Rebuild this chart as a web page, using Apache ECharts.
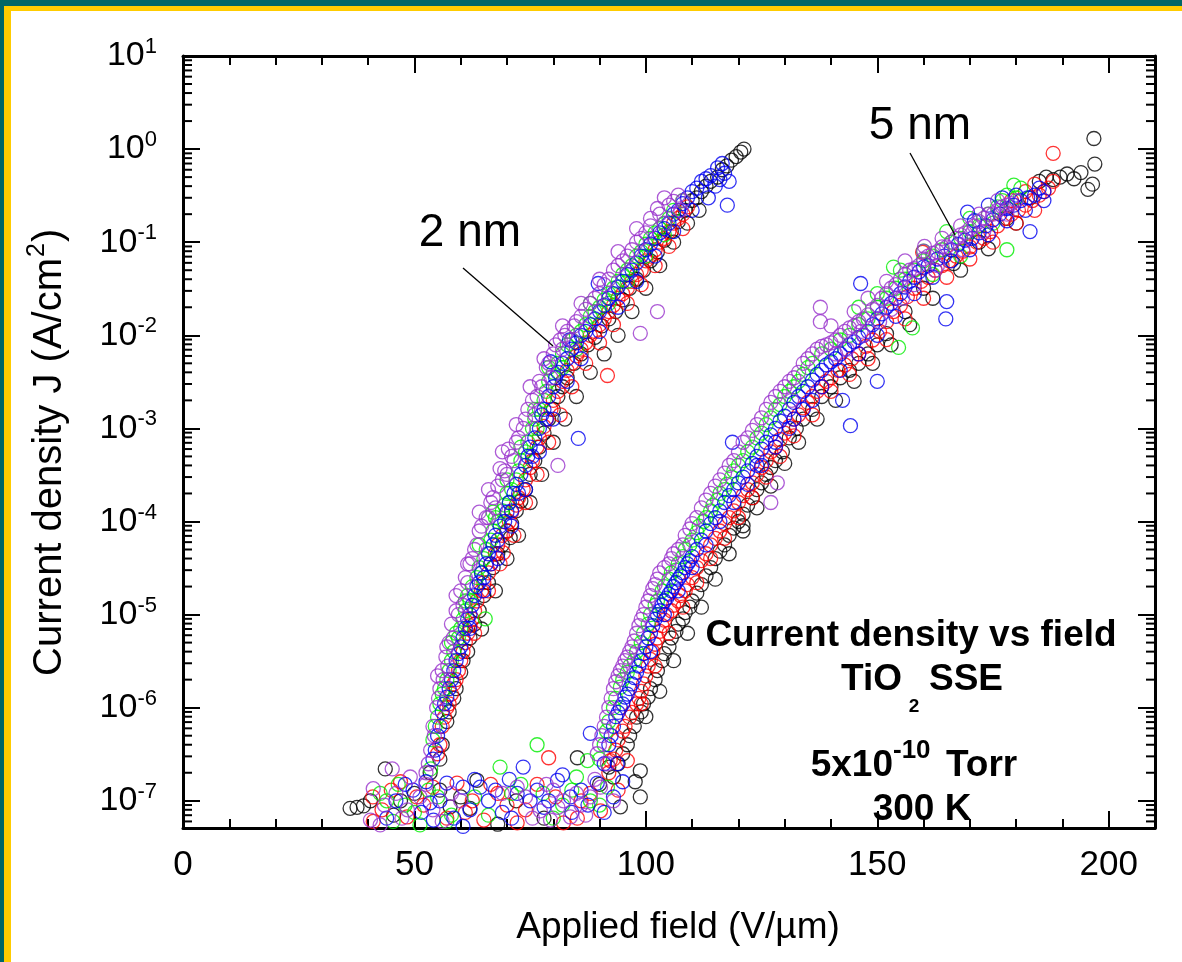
<!DOCTYPE html>
<html>
<head>
<meta charset="utf-8">
<title>Current density vs field — TiO2 SSE</title>
<script src="https://cdn.jsdelivr.net/npm/echarts@6/dist/echarts.min.js"></script>
<style>
  html, body { margin: 0; padding: 0; background: #ffffff; }
  #chart { width: 1182px; height: 962px; }
</style>
</head>
<body>
<div id="chart"></div>
<script>
// ---- Measured J–E data, [applied field (V/µm), current density (A/cm²)] ----
// 2 nm film
const black2nm = [[55.5,2.8e-7],[57,7.1e-7],[58.5,1.26e-6],[60,2.4e-6],[61.5,4.0e-6],[63,7.9e-6],[65,1.6e-5],[67,3.2e-5],[69,5.6e-5],[70.7,6.7e-5],[71,9.5e-5],[73,1.66e-4],[75,3.2e-4],[77,6.3e-4],[79,1.26e-3],[81,2.2e-3],[83,3.5e-3],[86,6.3e-3],[89,9.5e-3],[92,1.5e-2],[95,2.4e-2],[98,4.0e-2],[101,6.3e-2],[104,0.105],[107,0.166],[110,0.28],[112,0.35],[113,0.4],[114,0.45],[115.5,0.5],[116.5,0.6],[117.5,0.66],[118.5,0.76],[119.5,0.83],[120.5,0.93],[121.2,1.0],
  [56,4.0e-7],[57.5,9.0e-7],[59,1.6e-6],[60.5,3.2e-6],[62,5.6e-6],[64,1.1e-5],[66,2.2e-5],[68,4.5e-5],[70,7.9e-5],[72,1.3e-4],[74,2.2e-4],[76,4.5e-4],[78,8.9e-4],[80,1.6e-3],[82,2.8e-3],[84.5,5.0e-3],[87.5,7.9e-3],[90.5,1.26e-2],[93.5,1.8e-2],[96.5,3.2e-2],[99.5,5.0e-2],[102.5,7.9e-2],[105.5,0.13],[108.5,0.22],[111,0.3],
  [64.5,7.0e-6],[67.5,1.8e-5],[70,4.0e-5],[72.5,7.1e-5],[75,1.6e-4],[77.5,3.2e-4],[80,7.1e-4],[82.5,1.26e-3],[85,2.2e-3],[88,4.0e-3],[91,6.3e-3],[94,1.0e-2],[97,1.8e-2],[100,3.2e-2],[103,5.6e-2],[106,0.1],[109,0.16],[111.5,0.22]];
const red2nm = [[55,3.2e-7],[56,6.3e-7],[57,1.0e-6],[58,1.4e-6],[59,2.0e-6],[60,3.2e-6],[61,5.0e-6],[62,7.6e-6],[63,1.1e-5],[64.5,1.8e-5],[66,2.8e-5],[67.5,4.5e-5],[69.2,4.6e-5],[69,7.1e-5],[70.5,1.0e-4],[72,1.5e-4],[73.5,2.2e-4],[75,3.8e-4],[76.5,6.3e-4],[78,1.05e-3],[79.5,1.6e-3],[81,2.5e-3],[83,4.2e-3],[85,6.0e-3],[87,8.3e-3],[89,1.1e-2],[91,1.5e-2],[93,2.1e-2],[95,2.8e-2],[97,3.8e-2],[99,5.0e-2],[101,7.1e-2],[103,0.1],[105,0.13],[107,0.18],[109,0.24],[91.7,3.7e-3],
  [55.5,4.0e-7],[56.5,7.9e-7],[57.5,1.1e-6],[58.5,1.8e-6],[59.5,2.5e-6],[60.5,4.0e-6],[61.5,6.3e-6],[62.5,9.0e-6],[63.5,1.4e-5],[65,2.2e-5],[66.5,3.5e-5],[68,5.6e-5],[70,7.9e-5],[71,1.26e-4],[72.5,1.8e-4],[74,2.8e-4],[75.5,4.5e-4],[77,7.9e-4],[78.5,1.26e-3],[80,2.0e-3],[82,3.2e-3],[84,5.0e-3],[86,7.1e-3],[88,1.0e-2],[90,1.3e-2],[92,1.8e-2],[94,2.5e-2],[96,3.2e-2],[98,4.5e-2],[100,6.3e-2],[102,8.3e-2],[104,0.11],[106,0.16],[108,0.2],
  [63,6.3e-6],[66,1.8e-5],[68.5,3.5e-5],[71.5,7.1e-5],[74,1.6e-4],[76.5,3.2e-4],[79,7.1e-4],[81.5,1.4e-3],[84,2.8e-3],[87,5.0e-3],[90,8.3e-3],[93,1.3e-2],[96,2.2e-2],[99,3.5e-2],[102,5.6e-2],[105,0.09],[108,0.14]];
const green2nm = [[54,4.5e-7],[55,7.9e-7],[56,1.4e-6],[57,2.0e-6],[58,3.2e-6],[59.5,5.6e-6],[60.5,8.9e-6],[62,1.4e-5],[63.5,2.5e-5],[65.3,9.0e-6],[65,4.0e-5],[66.5,6.3e-5],[68,1.0e-4],[69.5,1.5e-4],[71,2.2e-4],[72.5,3.5e-4],[74,5.6e-4],[75.5,1.0e-3],[77,1.6e-3],[78.5,2.5e-3],[80,4.0e-3],[82,6.3e-3],[84,8.9e-3],[86,1.1e-2],[88,1.6e-2],[90,2.0e-2],[92,2.8e-2],[94,3.8e-2],[96,5.0e-2],[98,7.1e-2],[100,9.5e-2],[102,0.126],[104,0.158],[106,0.22],[108,0.28],
  [53.5,2.2e-7],[54.5,6.3e-7],[55.5,1.1e-6],[56.5,1.6e-6],[57.5,2.5e-6],[58.5,4.0e-6],[59,6.3e-6],[60,7.1e-6],[61,1.1e-5],[61.5,1.6e-5],[62.5,2.0e-5],[64,3.2e-5],[64.5,2.8e-5],[65.5,5.0e-5],[67,7.9e-5],[67.5,1.1e-4],[69,1.3e-4],[70,2.0e-4],[70.5,1.6e-4],[72,2.8e-4],[73,4.5e-4],[74.5,7.1e-4],[76,1.26e-3],[76.5,1.0e-3],[78,2.0e-3],[79,3.2e-3],[81,5.0e-3],[83,7.9e-3],[85,1.0e-2],[87,1.3e-2],[89,1.8e-2],[91,2.4e-2],[93,3.2e-2],[95,4.5e-2],[97,5.6e-2],[99,7.9e-2],[101,0.11],[103,0.14],[105,0.18],
  [58,5.0e-6],[61,1.4e-5],[64,5.6e-5],[67,1.26e-4],[70,2.8e-4],[73,6.3e-4],[76,1.6e-3],[79,4.5e-3],[82,4.5e-3],[85,7.1e-3],[88,2.2e-2],[92,2.2e-2],[96,3.8e-2],[100,0.071],[104,0.12]];
const blue2nm = [[54.5,3.5e-7],[55.5,6.3e-7],[56.5,1.1e-6],[57.5,1.6e-6],[58.5,2.5e-6],[59.5,3.8e-6],[60.5,5.6e-6],[61.5,8.9e-6],[62.5,1.26e-5],[64,2.2e-5],[65.5,3.5e-5],[67,5.6e-5],[68.5,8.9e-5],[70,1.26e-4],[71.5,2.0e-4],[73,3.2e-4],[74.5,5.0e-4],[76,7.9e-4],[77.5,1.4e-3],[79,2.2e-3],[79.4,5.2e-3],[80.5,3.5e-3],[82,5.0e-3],[84,7.1e-3],[86,1.0e-2],[88,1.3e-2],[90,1.8e-2],[92,2.5e-2],[94,3.3e-2],[96,4.5e-2],[98,6.0e-2],[100,8.3e-2],[102,0.11],[104,0.14],[106,0.2],[108,0.26],[110,0.35],[112,0.45],[114,0.52],[115.5,0.63],[117.6,0.25],[89.7,0.036],[85.4,7.8e-4],
  [54,2.8e-7],[55,5.0e-7],[56,9.0e-7],[57,1.3e-6],[58,2.0e-6],[59,3.2e-6],[60,4.5e-6],[61,7.1e-6],[62,1.0e-5],[63,1.6e-5],[63.5,2.0e-5],[64.5,2.8e-5],[65,2.5e-5],[66,4.5e-5],[66.5,3.5e-5],[67.5,7.1e-5],[68,6.3e-5],[69.5,1.0e-4],[70.5,1.6e-4],[71,1.3e-4],[72,2.5e-4],[72.5,2.0e-4],[74,4.0e-4],[75,6.3e-4],[75.5,5.0e-4],[77,1.0e-3],[78,1.6e-3],[78.5,1.26e-3],[80,2.8e-3],[81,4.0e-3],[83,5.6e-3],[83.5,8.9e-3],[85,8.3e-3],[87,1.1e-2],[89,1.5e-2],[91,2.1e-2],[93,2.8e-2],[95,3.8e-2],[97,5.0e-2],[99,7.1e-2],[101,9.5e-2],[103,0.126],[105,0.16],[107,0.22],[109,0.3],[111,0.38],[113,0.48],[115,0.4],[116,0.47],[116.5,0.7],[117,0.55],
  [62,7.1e-6],[65,1.8e-5],[68,4.0e-5],[71,8.9e-5],[74,2.2e-4],[77,5.6e-4],[80,1.26e-3],[83,3.2e-3],[86,5.6e-3],[90,1.1e-2],[94,2.0e-2],[98,3.8e-2],[102,7.1e-2],[106,0.13],[110,0.22],[113.5,0.3],[118,0.45]];
const purple2nm = [[52.5,2.0e-7],[53.5,3.5e-7],[54,6.3e-7],[54.8,1.0e-6],[55.5,1.6e-6],[56,2.5e-6],[56.8,3.5e-6],[57.5,5.0e-6],[58,7.9e-6],[59,1.1e-5],[60,1.8e-5],[61,2.5e-5],[62,3.5e-5],[63,5.0e-5],[64,7.9e-5],[65.5,1.1e-4],[66,1.1e-4],[67,1.8e-4],[68,2.4e-4],[68.5,3.7e-4],[69.5,3.5e-4],[70,3.2e-4],[70.3,6.0e-4],[71,5.0e-4],[72.5,7.9e-4],[74,1.26e-3],[75.5,2.0e-3],[76,1.4e-3],[77,3.2e-3],[78.5,4.5e-3],[80,6.3e-3],[81.5,8.9e-3],[83,1.1e-2],[84,8.9e-3],[85,1.4e-2],[87,1.9e-2],[89,2.5e-2],[91,3.5e-2],[93,5.0e-2],[95,6.3e-2],[97,8.3e-2],[98.8,1.05e-2],[99,0.11],[101,0.15],[103,0.2],[105,0.25],[106,0.275],[107,0.32],[108,0.28],[102.5,0.23],[102.5,0.018],[81,4.0e-4],
  [53,2.5e-7],[54.3,5.0e-7],[55.2,1.26e-6],[56.2,2.0e-6],[57.2,2.8e-6],[58.4,5.6e-6],[59.5,1.0e-5],[60.5,1.26e-5],[61.5,2.2e-5],[62.5,4.0e-5],[63.5,5.6e-5],[64.5,8.9e-5],[66.5,1.6e-4],[67.5,1.4e-4],[69,2.8e-4],[71.5,4.5e-4],[72,7.1e-4],[73.5,1.0e-3],[74.5,1.6e-3],[76.5,2.2e-3],[77.5,2.8e-3],[79,5.0e-3],[79.5,3.5e-3],[80.5,7.9e-3],[82,7.1e-3],[82.5,1.0e-2],[84.5,1.26e-2],[86,1.6e-2],[88,2.2e-2],[90,2.8e-2],[92,4.0e-2],[94,5.6e-2],[96,7.1e-2],[98,0.1],[100,0.126],[104,0.16],[107.5,0.22],
  [55,2.2e-6],[57,4.5e-6],[59,1.6e-5],[61.5,3.5e-5],[64,1.26e-4],[66,2.2e-4],[69,5.6e-4],[72,1.1e-3],[75,2.8e-3],[78,5.6e-3],[82,1.26e-2],[86,2.2e-2],[90,4.0e-2],[94,7.9e-2],[98,0.14],[101,0.18],[104,0.3]];

// 5 nm film
const black5nm = [[93,1.8e-7],[95,3.2e-7],[96.5,5.0e-7],[98,7.9e-7],[99.5,1.1e-6],[101,1.6e-6],[102.5,2.5e-6],[104,3.8e-6],[105.5,5.6e-6],[107,7.9e-6],[108.5,1.05e-5],[110,1.4e-5],[112,2.1e-5],[114,3.2e-5],[116,4.8e-5],[118,7.1e-5],[120,1.0e-4],[121,9.0e-5],[122,1.5e-4],[124,2.2e-4],[126,3.2e-4],[128,4.5e-4],[131,7.9e-4],[134,1.26e-3],[138,2.2e-3],[142,3.5e-3],[146,5.0e-3],[150,7.9e-3],[185,0.45],[186.5,0.5],[188,0.47],[189.5,0.5],[191,0.54],[192.5,0.48],[194,0.56],[195.5,0.37],[196.5,0.42],[197,0.69],[196.8,1.3],
  [94,2.5e-7],[96,4.0e-7],[97.5,6.3e-7],[99,9.0e-7],[100.5,1.3e-6],[102,2.0e-6],[103.5,3.2e-6],[105,4.5e-6],[106.5,6.6e-6],[108,9.0e-6],[109.5,1.2e-5],[111,1.7e-5],[113,2.6e-5],[115,4.0e-5],[117,5.6e-5],[119,8.5e-5],[121,1.2e-4],[123,1.8e-4],[125,2.6e-4],[127,3.8e-4],[129.5,5.6e-4],[132.5,1.0e-3],[136,1.6e-3],[140,2.8e-3],[144,4.2e-3],[148,6.3e-3],[152,1.04e-2],[156,1.8e-2],[160,3.2e-2],[166.5,5.9e-2],[172,0.1],[178,0.18],[183,0.3],
  [100,8.0e-7],[103,1.5e-6],[106,3.2e-6],[109,6.3e-6],[112,1.2e-5],[115,2.4e-5],[118,4.5e-5],[121,7.9e-5],[124,1.4e-4],[127,2.4e-4],[130,4.2e-4],[133,7.1e-4],[137,1.26e-3],[141,2.0e-3],[145,3.2e-3],[149,5.0e-3],[153,7.9e-3],[157,1.3e-2],[162,2.5e-2],[168,5.0e-2],[174,8.5e-2],[180,0.16]];
const red5nm = [[92,2.0e-7],[93.5,3.5e-7],[95,5.6e-7],[96.5,7.9e-7],[98,1.1e-6],[99,1.5e-6],[100,2.2e-6],[101,3.3e-6],[102,4.8e-6],[103,6.6e-6],[104,8.7e-6],[105.5,1.1e-5],[107,1.4e-5],[108.5,1.8e-5],[110,2.5e-5],[112,3.8e-5],[114,5.6e-5],[116,7.9e-5],[118,1.1e-4],[120,1.6e-4],[122,2.2e-4],[124,3.2e-4],[126,4.5e-4],[128,6.3e-4],[130,8.9e-4],[132,1.26e-3],[134,1.66e-3],[136,2.2e-3],[138,2.8e-3],[140,3.5e-3],[143,4.8e-3],[146,6.3e-3],[149,8.9e-3],[152,1.4e-2],[155,2.1e-2],[158,3.2e-2],[159.8,7.8e-2],[161,4.2e-2],[164,5.6e-2],[167,7.1e-2],[170,8.9e-2],[173,0.11],[176,0.15],[179,0.2],[182,0.25],[185,0.32],[187,0.38],[188,0.45],[188,0.9],
  [93,2.8e-7],[94,4.5e-7],[95.5,6.3e-7],[97,8.9e-7],[98.5,1.26e-6],[99.5,1.8e-6],[100.5,2.8e-6],[101.5,4.0e-6],[102.5,5.6e-6],[103.5,7.6e-6],[104.5,1.0e-5],[106,1.26e-5],[107.5,1.6e-5],[109,2.1e-5],[111,3.2e-5],[113,4.5e-5],[115,6.6e-5],[117,9.5e-5],[119,1.3e-4],[121,1.9e-4],[123,2.6e-4],[125,3.8e-4],[127,5.6e-4],[129,7.6e-4],[131,1.05e-3],[133,1.4e-3],[135,1.9e-3],[137,2.5e-3],[139,3.2e-3],[141.5,4.2e-3],[144.5,5.6e-3],[147.5,7.6e-3],[150.5,1.1e-2],[153.5,1.8e-2],[156.5,2.6e-2],[159.5,3.8e-2],[162.5,5.0e-2],[165.5,6.3e-2],[168.5,8.0e-2],[171.5,0.1],[174.5,0.13],[177.5,0.18],[179,0.28],[180.5,0.22],[182,0.35],[183.5,0.28],[184,0.42],[186,0.35],
  [99,1.1e-6],[102,2.8e-6],[105,6.3e-6],[108,1.2e-5],[111,2.2e-5],[114,4.0e-5],[117,6.6e-5],[120,1.1e-4],[123,1.8e-4],[126,3.0e-4],[129,5.0e-4],[132,8.3e-4],[136,1.4e-3],[140,2.5e-3],[144,3.8e-3],[148,5.6e-3],[152,9.0e-3],[156,1.5e-2],[160,2.5e-2],[165,4.2e-2],[170,6.6e-2],[175,0.1],[180,0.16],[184,0.22]];
const green5nm = [[90,2.8e-7],[91.5,5.6e-7],[93,1.0e-6],[94.5,1.66e-6],[96,2.4e-6],[97.5,3.2e-6],[99,5.0e-6],[100.5,7.9e-6],[102,1.26e-5],[103.5,1.8e-5],[105,2.4e-5],[106.5,3.0e-5],[108,4.2e-5],[109.5,5.6e-5],[111,7.6e-5],[112.5,1.0e-4],[114,1.3e-4],[115.5,1.7e-4],[117,2.2e-4],[118.5,3.0e-4],[120,4.0e-4],[122,5.6e-4],[124,7.9e-4],[126,1.1e-3],[128,1.6e-3],[130,2.2e-3],[132,2.8e-3],[134,3.8e-3],[136,5.0e-3],[140,7.1e-3],[144,1.0e-2],[148,1.5e-2],[152,2.5e-2],[153.5,5.4e-2],[154.6,7.4e-3],[156,4.0e-2],[157.6,1.2e-2],[160,6.3e-2],[164,8.3e-2],[168,0.11],[172,0.15],[176,0.24],[178,0.083],[178,0.32],[179.5,0.41],[181,0.38],
  [91,4.0e-7],[92,7.1e-7],[93.5,1.26e-6],[95,2.0e-6],[96.5,2.8e-6],[98,4.0e-6],[99.5,6.3e-6],[101,1.0e-5],[102.5,1.4e-5],[104,2.0e-5],[105.5,2.8e-5],[107,3.5e-5],[108.5,5.0e-5],[110,6.3e-5],[111.5,8.9e-5],[113,1.1e-4],[114.5,1.5e-4],[116,2.0e-4],[117.5,2.5e-4],[119,3.5e-4],[121,4.5e-4],[123,6.3e-4],[125,8.9e-4],[127,1.3e-3],[129,1.8e-3],[131,2.5e-3],[133,3.2e-3],[135,4.5e-3],[138,6.3e-3],[142,8.9e-3],[146,1.3e-2],[150,2.0e-2],[154,3.2e-2],[158,5.0e-2],[162,7.1e-2],[166,0.1],[170,0.13],[174,0.2],[177,0.28],
  [146,2.0e-2],[150,2.8e-2],[155,5.0e-2],[160,8.0e-2],[162,4.5e-2],[165,0.13],[168,7.1e-2],[170,0.18],[175,0.16],[180,0.3]];
const blue5nm = [[88,5.3e-7],[91,2.5e-7],[92,4.0e-7],[93,6.3e-7],[94,8.9e-7],[95,1.1e-6],[96,1.4e-6],[97,1.8e-6],[98,2.4e-6],[99,3.2e-6],[100,4.5e-6],[101,6.3e-6],[102,8.9e-6],[103,1.1e-5],[104,1.4e-5],[105,1.66e-5],[106,2.0e-5],[107,2.4e-5],[108,2.8e-5],[109,3.5e-5],[110,4.2e-5],[112,6.3e-5],[114,9.5e-5],[116,1.3e-4],[118,1.9e-4],[118.7,7.1e-4],[120,2.6e-4],[122,3.5e-4],[124,5.0e-4],[126,7.1e-4],[128,1.0e-3],[130,1.35e-3],[132,1.9e-3],[134,2.5e-3],[136,3.3e-3],[138,4.2e-3],[140,5.2e-3],[142,6.3e-3],[142.5,2.0e-3],[144,7.9e-3],[144.2,1.07e-3],[146,9.5e-3],[146.4,0.036],[148,1.1e-2],[150,1.5e-2],[150,3.2e-3],[152,2.0e-2],[154,2.5e-2],[156,3.3e-2],[158,4.2e-2],[160,5.4e-2],[163,6.6e-2],[164.8,0.015],[165,0.023],[166,8.3e-2],[169,0.105],[169.5,0.21],[172,0.126],[175,0.174],[178,0.23],[181,0.28],[183,0.13],[184,0.32],[186,0.35],
  [92.5,5.0e-7],[93.5,8.0e-7],[94.5,1.0e-6],[95.5,1.3e-6],[96.5,1.6e-6],[97.5,2.1e-6],[98.5,2.8e-6],[99.5,3.8e-6],[100.5,5.6e-6],[101.5,7.6e-6],[102.5,1.0e-5],[103.5,1.26e-5],[104.5,1.5e-5],[105.5,1.8e-5],[106.5,2.2e-5],[107.5,2.6e-5],[108.5,3.2e-5],[109.5,3.8e-5],[111,5.0e-5],[113,7.9e-5],[115,1.1e-4],[117,1.6e-4],[119,2.2e-4],[121,3.0e-4],[123,4.2e-4],[124,4.0e-4],[125,6.0e-4],[127,8.5e-4],[128,7.1e-4],[129,1.2e-3],[131,1.6e-3],[132,1.26e-3],[133,2.2e-3],[135,2.8e-3],[136,2.0e-3],[137,3.8e-3],[139,4.8e-3],[141,5.6e-3],[143,7.1e-3],[145,8.5e-3],[147,1.0e-2],[149,1.3e-2],[151,1.7e-2],[153,2.2e-2],[155,2.8e-2],[157,3.8e-2],[159,4.8e-2],[161,5.6e-2],[164.5,7.1e-2],[167.5,9.5e-2],[170.5,0.11],[171,0.17],[173.5,0.15],[174,0.25],[176.5,0.2],[177,0.3],[179.5,0.25],[180,0.32],[182.5,0.3],[185,0.38],
  [101,4.0e-6],[104,1.0e-5],[107,1.8e-5],[110,3.2e-5],[113,5.6e-5],[116,1.0e-4],[119,1.6e-4],[122,2.5e-4],[125,4.0e-4],[128,6.3e-4],[131,1.0e-3],[134,1.6e-3],[138,2.8e-3],[142,4.2e-3],[146,6.3e-3],[150,1.0e-2],[154,1.6e-2],[158,2.8e-2],[162,4.2e-2],[166,6.3e-2],[170,8.3e-2],[174,0.12],[178,0.17],[182,0.22],[186,0.28]];
const purple5nm = [[89.5,3.2e-7],[90.5,5.0e-7],[91.5,7.9e-7],[92.5,1.26e-6],[93.5,1.9e-6],[94.5,2.5e-6],[95.5,3.2e-6],[96.5,4.0e-6],[97.5,5.2e-6],[98.5,7.6e-6],[99.5,1.0e-5],[100.5,1.4e-5],[101.5,1.9e-5],[102.5,2.4e-5],[104,3.2e-5],[105.5,4.0e-5],[107,5.0e-5],[108.5,7.1e-5],[110,9.5e-5],[112,1.4e-4],[114,2.0e-4],[116,2.8e-4],[118,4.0e-4],[120,5.6e-4],[122,7.9e-4],[124,1.1e-3],[126,1.6e-3],[127,1.6e-4],[128,2.2e-3],[128.4,2.6e-4],[130,2.8e-3],[132,3.5e-3],[134,5.0e-3],[136,6.3e-3],[137.7,0.02],[137.7,0.014],[138,7.6e-3],[140,8.3e-3],[142,1.0e-2],[144,1.2e-2],[146,1.4e-2],[148,1.66e-2],[150,2.1e-2],[152,2.8e-2],[154,3.5e-2],[156,4.5e-2],[158,5.2e-2],[160,6.6e-2],[160.2,0.09],[162,7.6e-2],[164,8.9e-2],[166,0.1],[168,0.12],[170,0.14],[172,0.166],[174,0.2],[176,0.22],[178,0.25],[180,0.28],
  [90,4.0e-7],[91,6.3e-7],[92,1.0e-6],[93,1.6e-6],[94,2.2e-6],[95,2.8e-6],[96,3.5e-6],[97,4.5e-6],[98,6.3e-6],[99,8.9e-6],[100,1.2e-5],[101,1.6e-5],[102,2.1e-5],[103,2.8e-5],[105,3.5e-5],[106,4.5e-5],[108,5.6e-5],[109.5,8.3e-5],[111,1.1e-4],[113,1.7e-4],[115,2.4e-4],[117,3.3e-4],[119,4.5e-4],[121,7.1e-4],[123,9.5e-4],[125,1.3e-3],[127,1.9e-3],[129,2.5e-3],[131,3.2e-3],[131.5,2.0e-3],[133,4.0e-3],[135,5.6e-3],[137,7.1e-3],[139,7.9e-3],[141,8.9e-3],[143,1.1e-2],[143.5,7.1e-3],[145,1.26e-2],[146.5,1.1e-2],[147,1.5e-2],[149,1.9e-2],[150.5,1.4e-2],[151,2.5e-2],[153,3.2e-2],[155,4.0e-2],[155.5,2.5e-2],[157,5.0e-2],[159,5.6e-2],[161,7.1e-2],[162.5,5.0e-2],[163,7.9e-2],[165,8.9e-2],[167,0.11],[169,0.126],[171,0.15],[173,0.18],[175,0.2],[177,0.24],[179,0.26],
  [140,1.26e-2],[141,6.3e-3],[145,1.8e-2],[147,1.0e-2],[148,2.5e-2],[152,3.8e-2],[153,1.9e-2],[156,6.3e-2],[158,3.5e-2],[160,8.0e-2],[163,5.6e-2],[164,0.11],[168,0.15],[168.5,8.3e-2],[172,0.2],[173,0.13],[176,0.28],[178,0.2]];

// Leakage floor before onset (both films)
const blackFloor = [[36.1,8.3e-8],[37.6,8.5e-8],[39,8.8e-8],[40.5,1.0e-7],[43.7,2.2e-7],[45.5,7.0e-8],[47,1.0e-7],[50,1.2e-7],[53.4,2.0e-7],[55.5,1.3e-7],[57.7,8.6e-8],[60,1.1e-7],[62,8.3e-8],[63.5,1.66e-7],[68,5.6e-8],[72,1.0e-7],[78,6.5e-8],[85.2,2.9e-7],[90,1.5e-7],[92,2.3e-7],[94.5,8.6e-8],[97.7,1.6e-7],[98.8,2.1e-7],[98.8,1.1e-7]];
const redFloor = [[41,1.1e-7],[41.1,6.0e-8],[43,8.0e-8],[45,1.3e-7],[47,1.6e-7],[48.4,6.7e-8],[50.5,1.1e-7],[52,9.0e-8],[54,1.4e-7],[57,6.5e-8],[59.2,1.55e-7],[61,7.5e-8],[62.5,1.0e-7],[65,6.2e-8],[66.5,1.5e-7],[68,1.2e-7],[70,9.0e-8],[72.2,5.8e-8],[74,8.0e-8],[76.5,1.5e-7],[79,2.9e-7],[80.5,1.1e-7],[82.2,5.8e-8],[85.2,6.5e-8],[86,1.0e-7],[88,1.2e-7],[90.2,7.8e-8],[92.3,2.7e-7],[94,1.3e-7],[96,2.7e-7]];
const greenFloor = [[42.6,1.2e-7],[44,1.0e-7],[45.4,6.0e-8],[46.5,1.5e-7],[48,9.0e-8],[50,7.5e-8],[51.2,5.5e-8],[53,1.3e-7],[55,1.1e-7],[57,6.0e-8],[58,7.0e-8],[63,1.1e-7],[66,7.0e-8],[68.5,2.3e-7],[71,1.2e-7],[73,1.5e-7],[76.5,4.0e-7],[77.8,1.2e-7],[80,6.5e-8],[82,9.0e-8],[84,1.3e-7],[85,1.8e-7],[87.4,2.7e-7],[88,1.0e-7],[90,9.0e-8],[91.7,1.4e-7]];
const blueFloor = [[44,6.5e-8],[46,1.0e-7],[48,1.5e-7],[49.7,1.3e-7],[51.5,7.5e-8],[52.5,1.6e-7],[53.4,9.5e-8],[54.1,6.2e-8],[55.5,1.0e-7],[57,1.55e-7],[58.5,6.5e-8],[60.5,1.4e-7],[60.5,5.3e-8],[62,8.0e-8],[63,1.7e-7],[64.2,1.4e-7],[66,1.0e-7],[67.5,1.3e-7],[69,7.5e-8],[70.5,1.7e-7],[71,6.5e-8],[72.2,1.2e-7],[73.5,2.3e-7],[75,1.0e-7],[76.5,1.3e-7],[78,8.5e-8],[79,1.0e-7],[80.9,1.66e-7],[82,1.9e-7],[83.7,1.1e-7],[84,7.5e-8],[86,1.3e-7],[87.5,9.0e-8],[89.5,1.55e-7],[91,7.5e-8],[93,1.1e-7],[93.8,2.5e-7],[95,1.6e-7]];
const purpleFloor = [[40.5,6.2e-8],[41.1,1.35e-7],[42.6,5.5e-8],[43.5,9.0e-8],[45.2,2.2e-7],[46,1.2e-7],[47.3,6.5e-8],[48.5,8.0e-8],[49.1,1.8e-7],[51.2,1.1e-7],[52.5,1.5e-7],[54,8.0e-8],[56,6.0e-8],[58,1.2e-7],[60,1.0e-7],[69,1.2e-7],[72.2,1.4e-7],[74,1.1e-7],[75.5,6.5e-8],[77.2,7.8e-8],[78.5,1.5e-7],[79.4,6.2e-8],[80,1.3e-7],[81,8.5e-8],[82.2,1.0e-7],[83.7,6.7e-8],[85,1.2e-7],[86,9.0e-8],[87,7.0e-8],[88,1.1e-7],[89,1.7e-7],[90.2,1.4e-7],[91.7,2.5e-7],[93,1.0e-7]];

// Axis ticks
const xMajorStep = 50;
const xMinorStep = 10;
const yDecades = [-8, -7, -6, -5, -4, -3, -2, -1, 0];
const yMantissas = [2, 3, 4, 5, 6, 7, 8, 9];
const yMin = 5.1e-8, yMax = 10;

const FONT = '"Liberation Sans", Arial, Helvetica, sans-serif';

// minor log ticks (2..9 per decade) that fall inside the axis range
const yMinorTicks = [];
yDecades.forEach(d => yMantissas.forEach(m => {
  const v = m * Math.pow(10, d);
  if (v > yMin && v < yMax) yMinorTicks.push([0, v]);
}));

// draw order: later series on top
const groups = [
  { name: 'black',  color: '#000000', data: [black2nm, black5nm, blackFloor] },
  { name: 'red',    color: '#ff0000', data: [red2nm, red5nm, redFloor] },
  { name: 'green',  color: '#00ee00', data: [green2nm, green5nm, greenFloor] },
  { name: 'blue',   color: '#0000f0', data: [blue2nm, blue5nm, blueFloor] },
  { name: 'purple', color: '#9932cc', data: [purple2nm, purple5nm, purpleFloor] }
];

const chart = echarts.init(document.getElementById('chart'), null, { renderer: 'canvas' });

const axisLineStyle = { color: '#000', width: 3 };
const tickStyle = { color: '#000', width: 2 };

function xAxisDef(position, major) {
  return {
    type: 'value', position: position, min: 0, max: 210,
    interval: major ? xMajorStep : xMinorStep,
    axisLine: { show: major, onZero: false, lineStyle: axisLineStyle },
    axisTick: { show: true, inside: true, length: major ? 17 : 9, lineStyle: tickStyle },
    axisLabel: {
      show: major && position === 'bottom',
      formatter: v => (v % xMajorStep === 0 ? String(v) : ''),
      fontFamily: FONT, fontSize: 35, color: '#000', margin: 20
    },
    splitLine: { show: false }
  };
}

function yAxisDef(position) {
  return {
    type: 'log', logBase: 10, position: position, min: yMin, max: yMax,
    axisLine: { show: true, onZero: false, lineStyle: axisLineStyle },
    axisTick: { show: true, inside: true, length: 17, lineStyle: tickStyle },
    minorTick: { show: false },
    axisLabel: {
      show: position === 'left',
      margin: 26,
      formatter: v => {
        const e = Math.log10(v);
        const r = Math.round(e);
        if (Math.abs(e - r) > 1e-6) return '';
        return '{b|10}{e|' + r + '}';
      },
      rich: {
        b: { fontFamily: FONT, fontSize: 34, lineHeight: 40, color: '#000' },
        e: { fontFamily: FONT, fontSize: 22, verticalAlign: 'top', color: '#000' }
      }
    },
    splitLine: { show: false }
  };
}

const series = groups.map(g => ({
  name: g.name,
  type: 'scatter',
  xAxisIndex: 0, yAxisIndex: 0,
  data: [].concat(...g.data),
  symbol: 'circle',
  symbolSize: 14,
  itemStyle: { color: 'rgba(0,0,0,0)', borderColor: g.color, borderWidth: 1.3 },
  emphasis: { disabled: true },
  silent: true
}));

// log-spaced minor ticks on the left and right frame edges
series.push({
  type: 'custom',
  xAxisIndex: 0, yAxisIndex: 0,
  data: yMinorTicks,
  silent: true,
  clip: false,
  z: 5,
  renderItem: (params, api) => {
    const cs = params.coordSys;
    const y = api.coord([0, api.value(1)])[1];
    const len = 9;
    return {
      type: 'group',
      children: [
        { type: 'line', shape: { x1: cs.x, y1: y, x2: cs.x + len, y2: y }, style: { stroke: '#000', lineWidth: 2 } },
        { type: 'line', shape: { x1: cs.x + cs.width - len, y1: y, x2: cs.x + cs.width, y2: y }, style: { stroke: '#000', lineWidth: 2 } }
      ]
    };
  }
});

const txt = (text, x, y, font, align) => ({
  type: 'text', z: 50,
  style: { text: text, x: x, y: y, font: font, fill: '#000', textAlign: align || 'center', textVerticalAlign: 'middle' }
});
const BOLD = 'bold 37px ' + FONT;

chart.setOption({
  animation: false,
  backgroundColor: '#ffffff',
  grid: { left: 183, right: 27, top: 56, bottom: 134, containLabel: false },
  xAxis: [xAxisDef('bottom', true), xAxisDef('bottom', false), xAxisDef('top', true), xAxisDef('top', false)],
  yAxis: [yAxisDef('left'), yAxisDef('right')],
  series: series,
  graphic: [
    // frame
    { type: 'rect', z: 100, shape: { x: 0, y: 0, width: 1182, height: 6 }, style: { fill: '#006666' } },
    { type: 'rect', z: 100, shape: { x: 0, y: 0, width: 4, height: 962 }, style: { fill: '#006666' } },
    { type: 'rect', z: 99, shape: { x: 4, y: 6, width: 1178, height: 5 }, style: { fill: '#ffcc00' } },
    { type: 'rect', z: 99, shape: { x: 4, y: 6, width: 7, height: 956 }, style: { fill: '#ffcc00' } },
    // axis titles
    txt('Applied field (V/\u00b5m)', 678, 928, '37px ' + FONT),
    {
      type: 'group', x: 50, y: 456, rotation: Math.PI / 2, z: 50,
      children: [
        { type: 'text', style: { text: 'Current density J (A/cm', x: 198, y: 0, font: '40px ' + FONT, fill: '#000', textAlign: 'right', textVerticalAlign: 'middle' } },
        { type: 'text', style: { text: '2', x: 199, y: -13, font: '25px ' + FONT, fill: '#000', textAlign: 'left', textVerticalAlign: 'middle' } },
        { type: 'text', style: { text: ')', x: 214, y: 0, font: '40px ' + FONT, fill: '#000', textAlign: 'left', textVerticalAlign: 'middle' } }
      ]
    },
    // curve labels with leaders
    txt('2 nm', 470, 233, '46px ' + FONT),
    { type: 'line', z: 50, shape: { x1: 463, y1: 268, x2: 553, y2: 346 }, style: { stroke: '#000', lineWidth: 1.3 } },
    txt('5 nm', 920, 126, '46px ' + FONT),
    { type: 'line', z: 50, shape: { x1: 910, y1: 153, x2: 955, y2: 235 }, style: { stroke: '#000', lineWidth: 1.3 } },
    // conditions block
    txt('Current density vs field', 911, 636, BOLD),
    txt('TiO', 902, 680, BOLD, 'right'),
    txt('2', 914, 707, 'bold 19px ' + FONT),
    txt('SSE', 929, 680, BOLD, 'left'),
    txt('5x10', 893, 766, BOLD, 'right'),
    txt('-10', 893, 751, 'bold 26px ' + FONT, 'left'),
    txt('Torr', 946, 766, BOLD, 'left'),
    txt('300 K', 922, 810, BOLD)
  ]
});
</script>
</body>
</html>
